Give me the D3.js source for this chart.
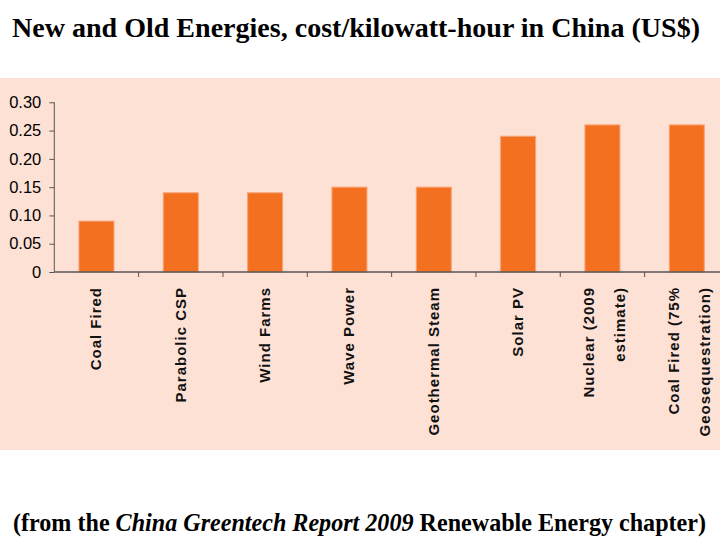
<!DOCTYPE html>
<meta charset="utf-8">
<style>
body{margin:0;background:#fff;}
.tick text{font-family:Arial,"Liberation Sans",sans-serif;}
.xlab{font-family:Arial,"Liberation Sans",sans-serif;font-weight:bold;font-size:15px;letter-spacing:1px;fill:#111;}
.ttl{font-family:"Times New Roman","Liberation Serif",serif;font-weight:bold;fill:#000;}
</style>
<body>
<script src="https://d3js.org/d3.v7.min.js"></script>
<script>

var categories=[
    ['Coal Fired'],
    ['Parabolic CSP'],
    ['Wind Farms'],
    ['Wave Power'],
    ['Geothermal Steam'],
    ['Solar PV'],
    ['Nuclear (2009', 'estimate)'],
    ['Coal Fired (75%', 'Geosequestration)']
];
var costs=[0.09, 0.14, 0.14, 0.15, 0.15, 0.24, 0.26, 0.26];
var yTicks=[0, 0.05, 0.10, 0.15, 0.20, 0.25, 0.30];

var W=720, H=540;
var svg=d3.select("body").append("svg").attr("width",W).attr("height",H);

// peach panel behind the chart
svg.append("rect").attr("x",0).attr("y",78).attr("width",W).attr("height",372).attr("fill","#FDE1D5");

var left=54.3, bandW=84.33;
var x=d3.scaleBand().domain(d3.range(categories.length))
    .range([left,left+bandW*categories.length]).paddingInner(0.585).paddingOuter(0.2925);
var y=d3.scaleLinear().domain([0,0.30]).range([272,102.3]);

var g=svg.append("g");

g.selectAll(".bar").data(costs).enter().append("rect")
    .attr("x",(d,i)=>x(i)).attr("y",d=>y(d))
    .attr("width",x.bandwidth()).attr("height",d=>y(0)-y(d))
    .attr("fill","#F37021").attr("stroke","#F9A274").attr("stroke-width",1);

var yAxis=g.append("g").attr("transform","translate("+left+",0)")
    .call(d3.axisLeft(y).tickValues(yTicks).tickSize(5).tickPadding(8)
        .tickFormat(d=>d===0?"0":d3.format(".2f")(d)));
yAxis.selectAll("line,path").attr("stroke","#555");
yAxis.select(".domain").attr("d","M0,"+y(0.30)+"V"+y(0));
yAxis.selectAll("text").attr("font-size",16.5).attr("fill","#000");

// x axis line with ticks between categories
var xa=g.append("g");
xa.append("line").attr("x1",left).attr("x2",W).attr("y1",y(0)).attr("y2",y(0))
    .attr("stroke","#555").attr("stroke-width",1.5);
xa.selectAll(".xt").data(d3.range(1,categories.length)).enter().append("line")
    .attr("x1",d=>left+bandW*d).attr("x2",d=>left+bandW*d)
    .attr("y1",y(0)).attr("y2",y(0)+5).attr("stroke","#555");

// rotated category labels
var lab=g.selectAll(".xl").data(categories).enter().append("g")
    .attr("transform",(d,i)=>"translate("+(x(i)+x.bandwidth()/2)+",287) rotate(-90)");
lab.each(function(lines){
    var sel=d3.select(this);
    var offs=lines.length===1?[5]:[-8,23];
    lines.forEach(function(t,k){
        sel.append("text").attr("class","xlab").attr("text-anchor","end")
            .attr("x",0).attr("y",offs[k]).text(t);
    });
});

svg.append("text").attr("class","ttl").attr("x",12).attr("y",37)
    .attr("font-size",28).attr("textLength",688).attr("lengthAdjust","spacingAndGlyphs")
    .text("New and Old Energies, cost/kilowatt-hour in China (US$)");

var sub=svg.append("text").attr("class","ttl").attr("x",13).attr("y",531)
    .attr("font-size",25).attr("textLength",693).attr("lengthAdjust","spacingAndGlyphs");
sub.append("tspan").text("(from the ");
sub.append("tspan").attr("font-style","italic").text("China Greentech Report 2009");
sub.append("tspan").text(" Renewable Energy chapter)");

</script>
</body>
